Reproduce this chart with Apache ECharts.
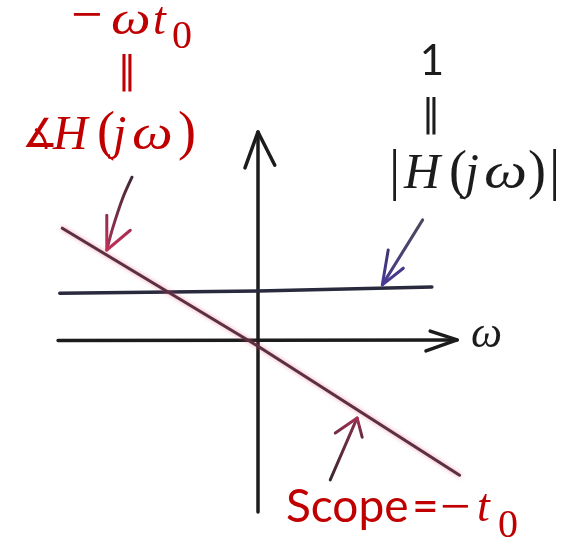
<!DOCTYPE html>
<html>
<head>
<meta charset="utf-8">
<script src="https://cdn.jsdelivr.net/npm/echarts@6/dist/echarts.min.js"></script>
<style>
  html, body { margin: 0; padding: 0; background: #ffffff; }
  #chart { width: 572px; height: 543px; }
</style>
</head>
<body>
<div id="chart"></div>
<script>
// Frequency axis (ω) and vertical axis, each with its open arrow head
const omegaAxis = [[-2.38, 0.01], [2.37, 0.02]];
const omegaHead = [[2.05, 0.19], [2.37, 0.02], [2.0, -0.19]];
const verticalAxis = [[0, -3.29], [0, 4.02]];
const verticalHead = [[-0.155, 3.33], [0, 4.02], [0.2, 3.38]];

// |H(jω)| = 1, sketched by hand
const magnitude = [[-2.36, 0.92], [0, 0.96], [2.07, 1.04]];
// ∡H(jω) = −ω·t0 with t0 = 1
const phase = [[-2.33, 2.17], [0, -0.1], [2.40, -2.58]];

// Pointer arrows to the curves
const phasePointer = [[-1.5, 3.15], [-1.61, 2.75], [-1.73, 2.17], [-1.80, 1.75]];
const phasePointerHead = [[-1.80, 2.42], [-1.80, 1.75], [-1.52, 2.13]];
const magPointer = [[1.96, 2.33], [1.48, 1.08]];
const magPointerHead = [[1.55, 1.75], [1.48, 1.08], [1.73, 1.40]];
const slopePointer = [[0.86, -2.67], [1.18, -1.48]];
const slopePointerHead = [[0.92, -1.77], [1.18, -1.48], [1.24, -1.85]];

const RED = '#c00000';
const INK = '#1c1c1c';
const SERIF = '"Liberation Serif"';
const SANS = 'Lato';
const SYM = '"DejaVu Sans"';

function stroke(data, color, width, extra) {
  return Object.assign({
    type: 'line',
    data: data,
    showSymbol: false,
    symbol: 'none',
    silent: true,
    animation: false,
    lineStyle: { color: color, width: width, cap: 'round', join: 'round' }
  }, extra || {});
}

function grad(top, bottom) {
  return {
    type: 'linear', x: 0, y: 0, x2: 0, y2: 1,
    colorStops: [{ offset: 0, color: top }, { offset: 1, color: bottom }]
  };
}

// one piece of text placed by its left edge (or centre) and its baseline
const K = { '"Liberation Serif"': 0.34, 'Lato': 0.39, '"DejaVu Sans"': 0.35 };
function glyph(text, left, baseline, size, fstyle, family, color, align, sx) {
  return {
    type: 'text',
    x: left,
    y: baseline - K[family] * size,
    scaleX: sx || 1,
    z: 10,
    silent: true,
    style: {
      text: text,
      font: fstyle + ' ' + size + 'px ' + family,
      fill: color,
      align: align || 'left',
      verticalAlign: 'middle'
    }
  };
}

const labels = [
  // −ωt0
  glyph('\u2212', 71, 37, 56, 'normal', SERIF, RED),
  glyph('\u03c9', 111, 38, 46, 'italic', SERIF, RED, 'left', 1.22),
  glyph('t', 153, 38, 46, 'italic', SERIF, RED),
  glyph('0', 172, 51, 40, 'normal', SERIF, RED),
  glyph('\u2016', 127, 86, 37, 'normal', SYM, RED, 'center'),
  // ∡H(jω)
  glyph('\u2221', 22, 151, 40, 'normal', SYM, RED),
  glyph('H', 53, 153, 48, 'italic', SERIF, RED),
  glyph('(', 97, 153, 54, 'normal', SERIF, RED),
  glyph('j', 113, 153, 48, 'italic', SERIF, RED),
  glyph('\u03c9', 132, 153, 48, 'italic', SERIF, RED, 'left', 1.2),
  glyph(')', 178, 153, 54, 'normal', SERIF, RED),
  // 1 = |H(jω)|
  glyph('1', 432, 78, 42, 'normal', SANS, INK, 'center'),
  glyph('\u2016', 431, 129, 37, 'normal', SYM, INK, 'center'),
  glyph('|', 389, 193, 56, 'normal', SERIF, INK),
  glyph('H', 404, 192, 50, 'italic', SERIF, INK),
  glyph('(', 449, 192, 54, 'normal', SERIF, INK),
  glyph('j', 465, 192, 50, 'italic', SERIF, INK),
  glyph('\u03c9', 484, 192, 50, 'italic', SERIF, INK, 'left', 1.22),
  glyph(')', 528, 192, 54, 'normal', SERIF, INK),
  glyph('|', 549, 193, 56, 'normal', SERIF, INK),
  // ω axis name
  glyph('\u03c9', 471, 350, 44, 'italic', SERIF, INK),
  // Scope=−t0
  glyph('Scope', 286, 525, 46, 'normal', SANS, RED),
  glyph('=', 412, 525, 46, 'normal', SANS, RED),
  glyph('\u2212', 440, 528, 54, 'normal', SERIF, RED),
  glyph('t', 477, 525, 46, 'italic', SERIF, RED),
  glyph('0', 498, 540, 40, 'normal', SERIF, RED)
];

const chart = echarts.init(document.getElementById('chart'), null, { renderer: 'canvas' });
chart.setOption({
  backgroundColor: '#ffffff',
  animation: false,
  grid: { left: 6, right: 20, top: 3, bottom: 20 },
  xAxis: { type: 'value', min: -3, max: 3.5, show: false },
  yAxis: { type: 'value', min: -3.5, max: 6.5, show: false },
  series: [
    stroke(omegaAxis, INK, 3.5),
    stroke(omegaHead, INK, 3.5),
    stroke(verticalAxis, INK, 3.5),
    stroke(verticalHead, INK, 3.5),
    stroke(magnitude, '#2a2a3e', 3.5),
    stroke(phase, '#5a3042', 3, {
      lineStyle: { color: '#5a3042', width: 3, cap: 'round',
        shadowColor: 'rgba(225,70,100,0.55)', shadowBlur: 4 }
    }),
    stroke(phasePointer, grad('#3a2a35', '#b03058'), 3, { smooth: 0.3 }),
    stroke(phasePointerHead, grad('#8a2e4e', '#c8305a'), 3),
    stroke(magPointer, grad('#4a4a5a', '#4a3a90'), 3),
    stroke(magPointerHead, grad('#3a3570', '#4b3b9a'), 3),
    stroke(slopePointer, grad('#8a3050', '#3a2630'), 3),
    stroke(slopePointerHead, grad('#b03058', '#5a2c3c'), 3)
  ],
  graphic: labels
});
</script>
</body>
</html>
